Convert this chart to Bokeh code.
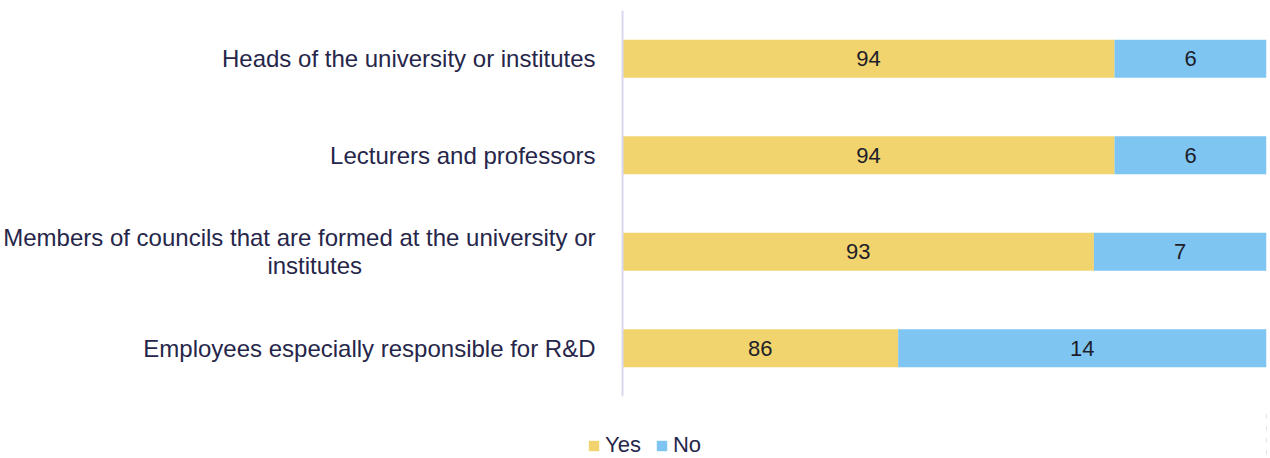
from bokeh.plotting import figure
from bokeh.models import ColumnDataSource, FactorRange, Range1d, Legend, LegendItem, Span
from bokeh.layouts import column
from bokeh.core.properties import value
from bokeh.embed import file_html
from bokeh.resources import INLINE

NB = "\u00a0"
categories = [
    "Heads of the university or institutes",
    "Lecturers and professors",
    "Members of councils that are formed at the university or\ninstitutes" + NB * 35,
    "Employees especially responsible for R&D",
]
yes_values = [94.1, 94.1, 93.3, 85.7]
no_values = [5.9, 5.9, 6.7, 14.3]
yes_labels = ["94", "94", "93", "86"]
no_labels = ["6", "6", "7", "14"]
series_names = ["Yes", "No"]
axis_start = 75
axis_end = 100

YES_COLOR = "#F2D46E"
NO_COLOR = "#7FC5F2"
TEXT_COLOR = "#26264A"
AXIS_COLOR = "#D9D8EE"
FONT = "Liberation Sans"

factors = list(reversed(categories))

yes_left = [axis_start] * len(categories)
yes_right = yes_values
no_left = yes_values
no_right = [y + n for y, n in zip(yes_values, no_values)]

src = ColumnDataSource(dict(
    cat=categories,
    yes_left=yes_left, yes_right=yes_right,
    no_left=no_left, no_right=no_right,
    yes_mid=[(a + b) / 2 for a, b in zip(yes_left, yes_right)],
    no_mid=[(a + b) / 2 for a, b in zip(no_left, no_right)],
    yes_lab=yes_labels, no_lab=no_labels,
))

p = figure(
    width=1270, height=410,
    y_range=FactorRange(factors=factors, range_padding=0),
    x_range=Range1d(73.64, axis_end),
    x_axis_location=None,
    output_backend="svg", toolbar_location=None,
    min_border_left=586, min_border_right=4,
    min_border_top=10, min_border_bottom=14,
)
p.outline_line_color = None
p.background_fill_color = "white"
p.border_fill_color = "white"
p.grid.visible = False

bar_h = 0.394
p.hbar(y="cat", left="yes_left", right="yes_right", height=bar_h,
       source=src, fill_color=YES_COLOR, line_color=None)
p.hbar(y="cat", left="no_left", right="no_right", height=bar_h,
       source=src, fill_color=NO_COLOR, line_color=None)

p.text(x="yes_mid", y="cat", text="yes_lab", source=src,
       text_align="center", text_baseline="middle",
       text_font=value(FONT), text_font_size="22px", text_color="#1E1E2A")
p.text(x="no_mid", y="cat", text="no_lab", source=src,
       text_align="center", text_baseline="middle",
       text_font=value(FONT), text_font_size="22px", text_color="#1E1E2A")

# category axis line at the start of the bars
p.add_layout(Span(location=axis_start, dimension="height",
                  line_color=AXIS_COLOR, line_width=2))

yax = p.yaxis[0]
yax.axis_line_color = None
yax.major_tick_line_color = None
yax.minor_tick_line_color = None
yax.major_label_text_font = FONT
yax.major_label_text_font_size = "24px"
yax.major_label_text_color = TEXT_COLOR
yax.major_label_text_line_height = 1.05
yax.major_label_standoff = -14

# legend strip under the chart (same data, bars lie outside its view)
p2 = figure(
    width=1270, height=48,
    y_range=FactorRange(factors=factors, range_padding=0),
    x_range=Range1d(0, 1),
    x_axis_location=None, y_axis_location=None,
    output_backend="svg", toolbar_location=None,
    min_border_left=586, min_border_right=4,
    min_border_top=0, min_border_bottom=0,
)
p2.outline_line_color = None
p2.grid.visible = False
p2.background_fill_color = "white"
p2.border_fill_color = "white"
l_yes = p2.hbar(y="cat", left="yes_left", right="yes_right", height=bar_h,
                source=src, fill_color=YES_COLOR, line_color=None)
l_no = p2.hbar(y="cat", left="no_left", right="no_right", height=bar_h,
               source=src, fill_color=NO_COLOR, line_color=None)

legend = Legend(
    items=[LegendItem(label=series_names[0], renderers=[l_yes]),
           LegendItem(label=series_names[1], renderers=[l_no])],
    orientation="horizontal",
    location=(0, 0),
    glyph_width=13, glyph_height=13,
    label_text_font=FONT, label_text_font_size="22px",
    label_text_color=TEXT_COLOR,
    label_standoff=5, spacing=14,
    padding=0, margin=0,
    border_line_color=None, background_fill_alpha=0,
)
p2.add_layout(legend, "center")

layout = column(p, p2, spacing=0)
open("out.html", "w").write(file_html(layout, INLINE))
